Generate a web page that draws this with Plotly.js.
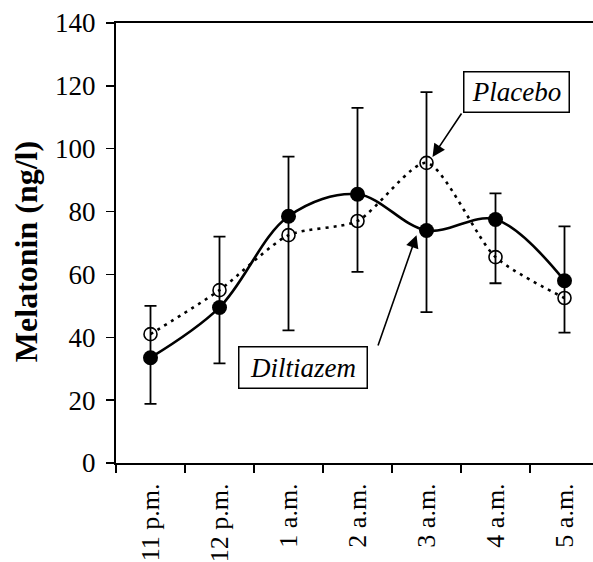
<!DOCTYPE html>
<html>
<head>
<meta charset="utf-8">
<script src="https://cdn.plot.ly/plotly-3.0.1.min.js"></script>
<style>html,body{margin:0;padding:0;background:#fff;}#chart{width:593px;height:562px;}</style>
</head>
<body>
<div id="chart"></div>
<script>
var times = ["11 p.m.", "12 p.m.", "1 a.m.", "2 a.m.", "3 a.m.", "4 a.m.", "5 a.m."];
var diltiazem = [33.5, 49.5, 78.5, 85.5, 74, 77.5, 58];
var placebo = [41, 55, 72.5, 77, 95.5, 65.5, 52.5];
var barUpper = [50, 72, 97.5, 113, 118, 85.8, 75.3];
var barLower = [18.8, 31.7, 42.2, 60.8, 48, 57.2, 41.5];
var yTicks = [0, 20, 40, 60, 80, 100, 120, 140];

var errPlus = diltiazem.map(function (v, i) { return barUpper[i] - v; });
var errMinus = diltiazem.map(function (v, i) { return v - barLower[i]; });

var serif = "Liberation Serif, Times New Roman, serif";

var traces = [
  {
    x: times, y: diltiazem, type: "scatter", mode: "lines+markers", name: "Diltiazem",
    line: {color: "#000", width: 2.6, shape: "spline", smoothing: 1},
    marker: {symbol: "circle", size: 15, color: "#000"},
    error_y: {type: "data", symmetric: false, array: errPlus, arrayminus: errMinus,
              color: "#000", thickness: 1.8, width: 6},
    cliponaxis: false
  },
  {
    x: times, y: placebo, type: "scatter", mode: "lines+markers", name: "Placebo",
    line: {color: "#000", width: 2.6, shape: "spline", smoothing: 0.7, dash: "3px,5px"},
    marker: {symbol: "circle-open", size: 13, color: "#000", line: {width: 1.6, color: "#000"}},
    cliponaxis: false
  }
];

var layout = {
  width: 593, height: 562,
  margin: {l: 116, r: 0, t: 23, b: 99},
  paper_bgcolor: "#fff", plot_bgcolor: "#fff",
  showlegend: false,
  font: {family: serif, color: "#000"},
  xaxis: {
    type: "category", range: [-0.5, 6.413],
    showline: true, linecolor: "#000", linewidth: 2, mirror: true,
    showgrid: false, zeroline: false,
    ticks: "outside", tickson: "boundaries", ticklen: 8, tickwidth: 1.5, tickcolor: "#000",
    tickangle: -90, tickfont: {family: serif, size: 26, color: "#000"},
    ticklabelstandoff: 8
  },
  yaxis: {
    range: [0, 140], tickvals: yTicks,
    showline: true, linecolor: "#000", linewidth: 2,
    showgrid: false, zeroline: false,
    ticks: "outside", ticklen: 8, tickwidth: 1.5, tickcolor: "#000",
    tickfont: {family: serif, size: 27, color: "#000"},
    ticklabelstandoff: 5
  },
  annotations: [
    {xref: "paper", yref: "paper", x: -0.19, y: 0.48, xanchor: "center", yanchor: "middle",
     text: "<b>Melatonin (ng/l)</b>",
     textangle: -90, showarrow: false, font: {family: serif, size: 32, color: "#000"}},
    {x: 5.304, y: 118.2, text: "<i>Placebo</i>", showarrow: false,
     font: {family: serif, size: 27, color: "#000"},
     bordercolor: "#000", borderwidth: 1.5, borderpad: 3, bgcolor: "#fff", width: 98, height: 33},
    {x: 2.21, y: 30.5, text: "<i>Diltiazem</i>", showarrow: false,
     font: {family: serif, size: 27, color: "#000"},
     bordercolor: "#000", borderwidth: 1.5, borderpad: 3, bgcolor: "#fff", width: 121, height: 34},
    {x: 4.087, y: 97.4, ax: 4.522, ay: 111.7, axref: "x", ayref: "y", text: "",
     showarrow: true, arrowhead: 2, arrowsize: 1.6, arrowwidth: 1.6, arrowcolor: "#000", standoff: 0},
    {x: 3.855, y: 72.5, ax: 3.29, ay: 36.9, axref: "x", ayref: "y", text: "",
     showarrow: true, arrowhead: 2, arrowsize: 1.6, arrowwidth: 1.6, arrowcolor: "#000", standoff: 0}
  ]
};

Plotly.newPlot("chart", traces, layout, {staticPlot: true, displayModeBar: false});
</script>
</body>
</html>
